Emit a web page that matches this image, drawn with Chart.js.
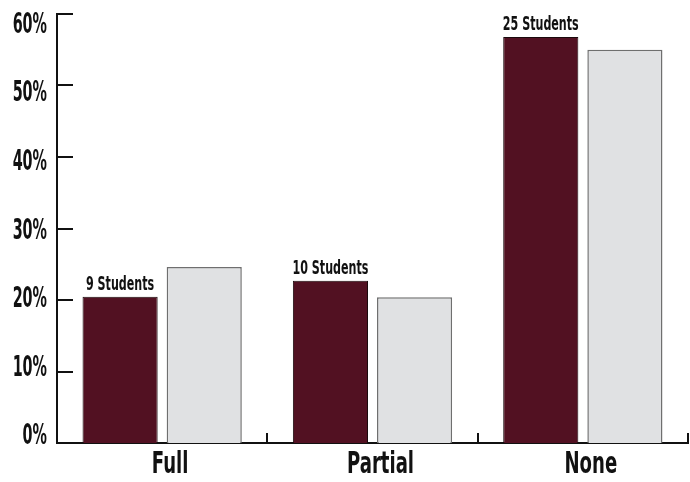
<!DOCTYPE html>
<html>
<head>
<meta charset="utf-8">
<script src="https://cdn.jsdelivr.net/npm/chart.js@4"></script>
<style>
  html, body { margin: 0; padding: 0; background: #fff; }
  #wrap { width: 690px; height: 482px; }
</style>
</head>
<body>
<div id="wrap"><canvas id="myChart" width="690" height="482"></canvas></div>
<script>
// values
const categories = ["Full", "Partial", "None"];
const studentPct = [20.45, 22.7, 56.8];
const comparePct = [24.6, 20.4, 55.0];
const studentCounts = ["9 Students", "10 Students", "25 Students"];
const yTicks = [0, 10, 20, 30, 40, 50, 60];

const FONT = "'DejaVu Sans Condensed', 'DejaVu Sans', sans-serif";

// draw text squeezed horizontally to get the narrow DIN look
function narrowText(ctx, text, x, y, size, squeeze, align) {
  ctx.save();
  ctx.font = "bold " + size + "px " + FONT;
  ctx.textAlign = align;
  ctx.textBaseline = "middle";
  ctx.translate(x, y);
  ctx.scale(squeeze, 1);
  ctx.fillText(text, 0, 0);
  ctx.restore();
}

// inward ticks plus the axis labels
const axisDeco = {
  id: "axisDeco",
  afterDraw(chart) {
    const ctx = chart.ctx;
    const x = chart.scales.x, y = chart.scales.y;
    ctx.save();
    ctx.strokeStyle = "#111";
    ctx.fillStyle = "#111";
    ctx.lineWidth = 2;
    yTicks.forEach(v => {
      const py = Math.round(y.getPixelForValue(v));
      if (v !== 0) {
        ctx.beginPath();
        ctx.moveTo(x.left, py);
        ctx.lineTo(x.left + 16, py);
        ctx.stroke();
      }
      // labels in the original sit on a slightly tighter spacing than the ticks
      narrowText(ctx, v + "%", x.left - 10, py + (v - 20) * 0.3, 28, 0.57, "right");
    });
    for (let i = 1; i <= categories.length; i++) {
      const px = Math.round(x.getPixelForValue(i - 0.5));
      ctx.beginPath();
      ctx.moveTo(px, y.bottom);
      ctx.lineTo(px, y.bottom - 10);
      ctx.stroke();
    }
    categories.forEach((c, i) => {
      narrowText(ctx, c, x.getPixelForValue(i) + 8, y.bottom + 22, 30, 0.67, "center");
    });
    ctx.restore();
  }
};

// "N Students" above the dark bars
const countLabels = {
  id: "countLabels",
  afterDatasetsDraw(chart) {
    const ctx = chart.ctx;
    const meta = chart.getDatasetMeta(0);
    ctx.save();
    ctx.fillStyle = "#111";
    meta.data.forEach((bar, i) => {
      narrowText(ctx, studentCounts[i], bar.x, bar.y - 12, 19, 0.65, "center");
    });
    ctx.restore();
  }
};

const ctx = document.getElementById("myChart").getContext("2d");
new Chart(ctx, {
  type: "bar",
  data: {
    labels: categories,
    datasets: [
      {
        label: "Students",
        data: studentPct,
        backgroundColor: "#521122",
        borderColor: "#1a0a0d",
        borderWidth: 1,
        barPercentage: 0.893,
        categoryPercentage: 0.8,
      },
      {
        label: "Compare",
        data: comparePct,
        backgroundColor: "#e0e1e3",
        borderColor: "#6f6f6f",
        borderWidth: 1.5,
        barPercentage: 0.893,
        categoryPercentage: 0.8,
      },
    ],
  },
  options: {
    responsive: false,
    animation: false,
    layout: { padding: { top: 14, right: 2, left: 0, bottom: 0 } },
    plugins: {
      legend: { display: false },
      tooltip: { enabled: false },
    },
    scales: {
      x: {
        grid: { display: false },
        border: { display: true, color: "#111", width: 2 },
        ticks: { display: false },
        afterFit(scale) { scale.height = 39; },
      },
      y: {
        min: 0,
        max: 60,
        grid: { display: false },
        border: { display: true, color: "#111", width: 2 },
        ticks: { display: false, stepSize: 10 },
        afterFit(scale) { scale.width = 57; },
      },
    },
  },
  plugins: [axisDeco, countLabels],
});
</script>
</body>
</html>
